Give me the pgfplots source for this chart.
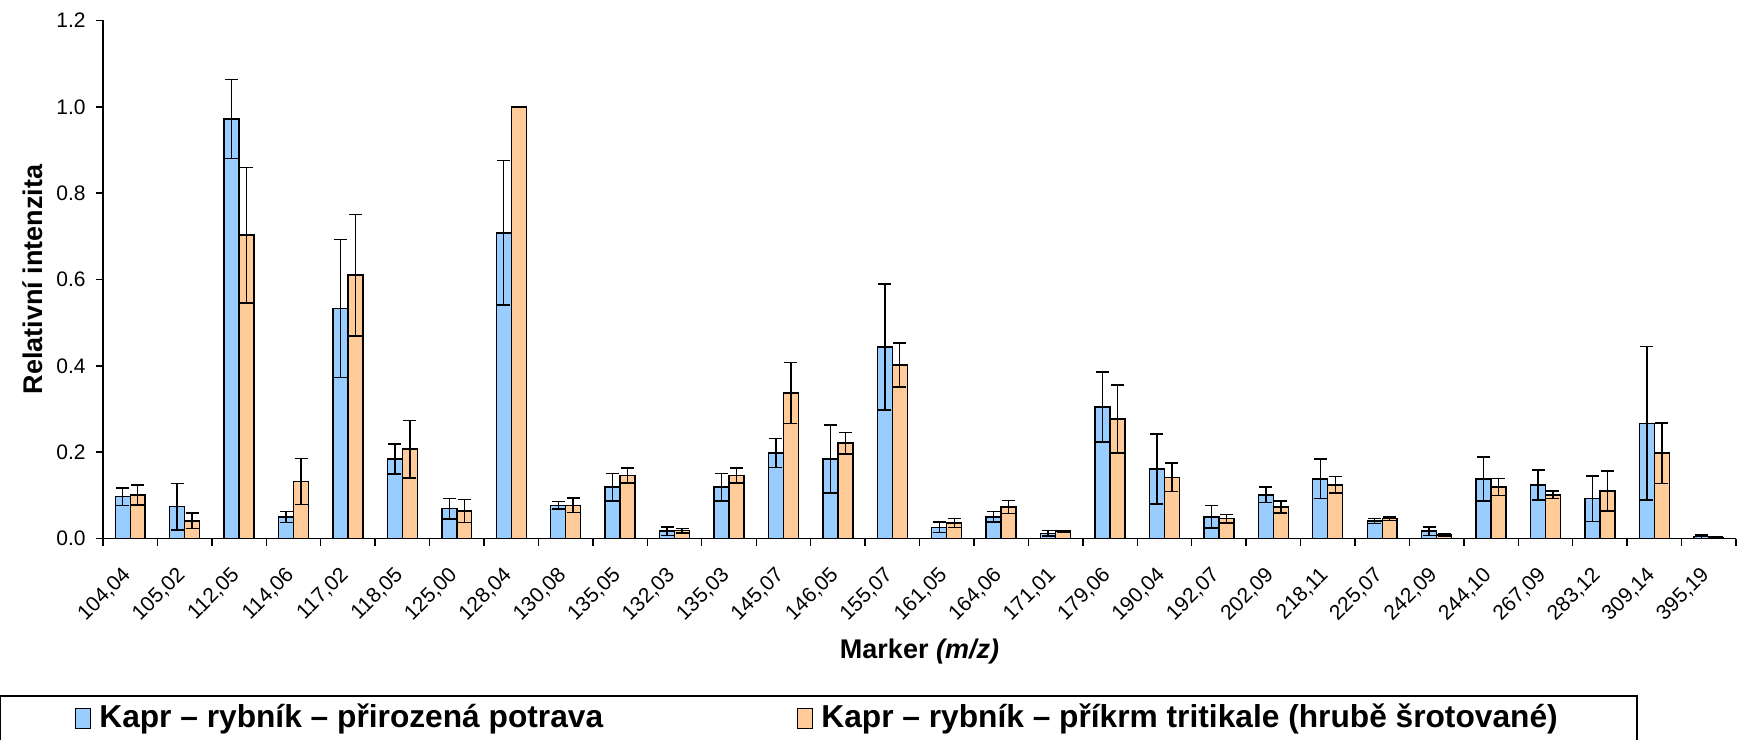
\documentclass[border=0pt]{standalone}
\usepackage{fontspec}
\setmainfont{Liberation Sans}
\usepackage{pgfplots}
\usepackage{pgfplotstable}
\pgfplotsset{compat=1.18}
\definecolor{blueC}{HTML}{99CCFF}
\definecolor{orangeC}{HTML}{FFCC99}
\pgfplotstableread{
x b be o oe
0 0.097 0.020 0.101 0.023
1 0.074 0.054 0.041 0.018
2 0.972 0.092 0.703 0.157
3 0.050 0.013 0.132 0.053
4 0.533 0.160 0.610 0.141
5 0.184 0.035 0.207 0.067
6 0.069 0.024 0.064 0.027
7 0.708 0.167 1.000 0.000
8 0.077 0.009 0.077 0.017
9 0.119 0.032 0.146 0.017
10 0.017 0.010 0.018 0.005
11 0.119 0.032 0.146 0.017
12 0.198 0.033 0.337 0.071
13 0.184 0.079 0.221 0.025
14 0.444 0.146 0.402 0.051
15 0.026 0.012 0.036 0.010
16 0.050 0.012 0.073 0.015
17 0.012 0.006 0.017 0.002
18 0.305 0.081 0.277 0.079
19 0.161 0.081 0.142 0.033
20 0.050 0.026 0.046 0.010
21 0.101 0.018 0.073 0.014
22 0.138 0.046 0.124 0.019
23 0.041 0.006 0.046 0.004
24 0.017 0.010 0.008 0.004
25 0.138 0.051 0.119 0.020
26 0.124 0.035 0.101 0.009
27 0.092 0.053 0.110 0.046
28 0.267 0.178 0.198 0.070
29 0.004 0.004 0.003 0.001
}\data
\begin{document}
\begin{tikzpicture}
\begin{axis}[
  scale only axis, width=816.5pt, height=259pt,
  xmin=-0.5, xmax=29.5, ymin=0, ymax=1.2,
  axis x line*=bottom, axis y line*=left,
  axis line style={-, line width=0.7pt, black},
  every outer x axis line/.append style={-},
  every outer y axis line/.append style={-},
  tick align=outside,
  major tick length=0pt, minor tick length=3.5pt,
  every tick/.style={black, line width=0.7pt},
  xtick={0,...,29},
  xticklabels={{104,04},{105,02},{112,05},{114,06},{117,02},{118,05},{125,00},{128,04},{130,08},{135,05},{132,03},{135,03},{145,07},{146,05},{155,07},{161,05},{164,06},{171,01},{179,06},{190,04},{192,07},{202,09},{218,11},{225,07},{242,09},{244,10},{267,09},{283,12},{309,14},{395,19}},
  minor xtick={-0.5,0.5,...,29.5},
  ytick={0,0.2,0.4,0.6,0.8,1.0,1.2},
  minor ytick={0,0.2,0.4,0.6,0.8,1.0,1.2},
  yticklabel style={/pgf/number format/fixed, /pgf/number format/fixed zerofill, /pgf/number format/precision=1, /pgf/number format/assume math mode=true, font=\fontsize{10.5}{12}\selectfont, anchor=east, inner sep=0pt, xshift=-8.5pt},
  xticklabel style={font=\fontsize{10.5}{12}\selectfont, xshift=-4.6pt, yshift=-13.25pt, rotate=45, anchor=north east, inner sep=0pt},
  xlabel={\textbf{Marker \textit{(m/z)}}},
  ylabel={\textbf{Relativní intenzita}},
  every axis x label/.style={at={(axis description cs:0.5,-0.2191)}, anchor=center, font=\fontsize{13.5}{16}\selectfont},
  every axis y label/.style={at={(axis description cs:-0.04287,0.5)}, rotate=90, anchor=center, font=\fontsize{13.5}{16}\selectfont},
  ybar, bar width=0.275,
  clip=false,
  legend columns=2,
  legend cell align=left,
  legend style={at={(axis description cs:-0.0637,-0.3021)}, anchor=north west, draw=black, line width=0.8pt, inner xsep=37.7pt, inner ysep=1pt, font=\fontsize{15.85}{19}\selectfont\bfseries, nodes={inner sep=2pt, text height=13pt, text depth=4pt}, /tikz/every odd column/.append style={column sep=2pt}, /tikz/every even column/.append style={column sep=95pt}},
]
\addplot[fill=blueC, draw=black, line width=0.7pt, bar shift=-0.1375,
  legend image code/.code={\draw[fill=blueC, draw=black, line width=0.6pt] (0pt,-5pt) rectangle (7.5pt,5pt);},
  error bars/.cd, y dir=both, y explicit, error mark=|,
  error bar style={line width=0.7pt, black},
  error mark options={line width=0.7pt, mark size=3.25pt, black}]
  table[x=x, y=b, y error=be] {\data};
\addlegendentry{Kapr – rybník – přirozená potrava}
\addplot[fill=orangeC, draw=black, line width=0.7pt, bar shift=0.1375,
  legend image code/.code={\draw[fill=orangeC, draw=black, line width=0.6pt] (0pt,-5pt) rectangle (7.5pt,5pt);},
  error bars/.cd, y dir=both, y explicit, error mark=|,
  error bar style={line width=0.7pt, black},
  error mark options={line width=0.7pt, mark size=3.25pt, black}]
  table[x=x, y=o, y error=oe] {\data};
\addlegendentry{Kapr – rybník – příkrm tritikale (hrubě šrotované)}
\end{axis}
\pgfresetboundingbox
\useasboundingbox (-51.5pt,-100.25pt) rectangle (817.5pt,269.25pt);
\end{tikzpicture}
\end{document}
